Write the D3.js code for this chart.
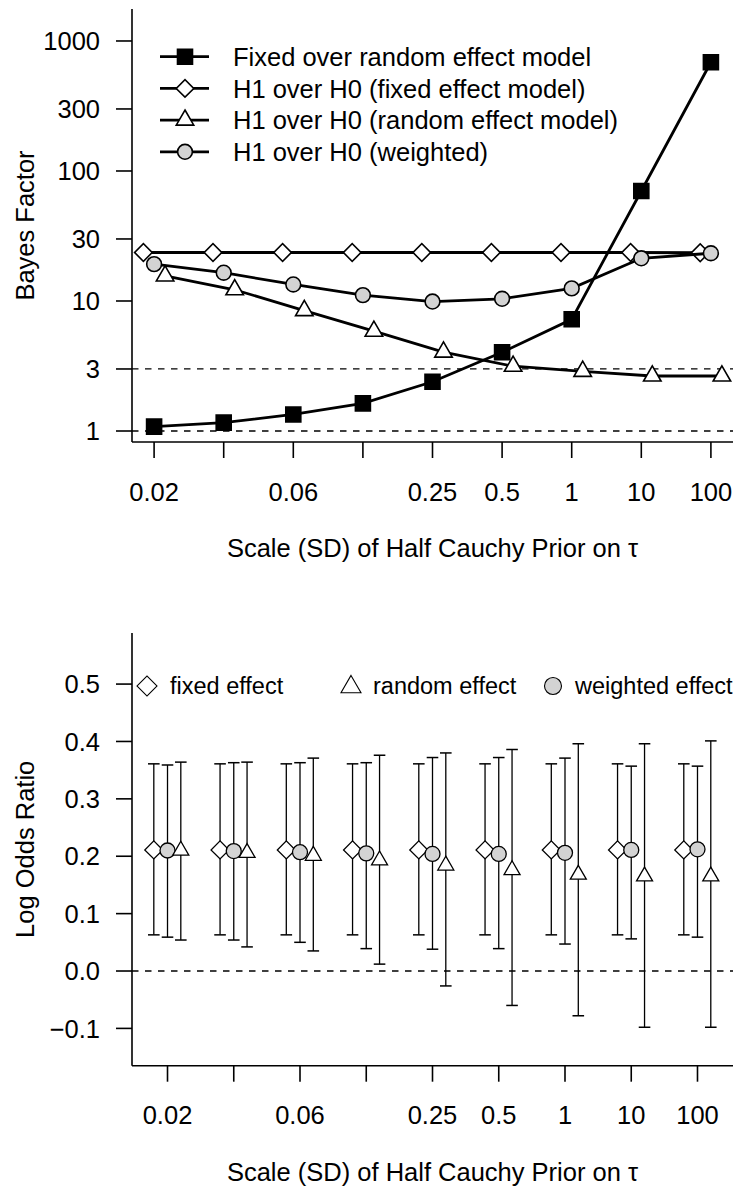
<!DOCTYPE html>
<html>
<head>
<meta charset="utf-8">
<script src="https://cdn.jsdelivr.net/npm/d3@7"></script>
<style>
  body { margin: 0; background: #fff; }
  svg text { font-family: "Liberation Sans", Arial, sans-serif; fill: #000; }
</style>
</head>
<body>
<div id="chart"></div>
<script>
// ── Data ──
const categories = ["0.02", "0.04", "0.06", "0.12", "0.25", "0.5", "1", "10", "100"];
const tickLabels = ["0.02", "", "0.06", "", "0.25", "0.5", "1", "10", "100"];

// top panel: Bayes factors
const bfFixedOverRandom = [1.08, 1.16, 1.34, 1.63, 2.39, 4.03, 7.23, 70.2, 686];
const bfH1Fixed = [23.6, 23.6, 23.6, 23.6, 23.6, 23.6, 23.6, 23.6, 23.5];
const bfH1Random = [15.6, 12.2, 8.44, 5.86, 4.05, 3.15, 2.88, 2.65, 2.65];
const bfH1Weighted = [19.2, 16.5, 13.4, 11.1, 9.9, 10.4, 12.5, 21.3, 23.3];
const bfTicks = [1, 3, 10, 30, 100, 300, 1000];
const bfRefLines = [1, 3];

// bottom panel: log odds ratio estimates with intervals
const fixedEst = [0.211, 0.211, 0.211, 0.211, 0.211, 0.211, 0.211, 0.211, 0.211];
const fixedLo  = [0.063, 0.063, 0.063, 0.063, 0.063, 0.063, 0.063, 0.063, 0.063];
const fixedHi  = [0.361, 0.361, 0.361, 0.361, 0.361, 0.361, 0.361, 0.361, 0.361];
const weightedEst = [0.210, 0.209, 0.207, 0.205, 0.204, 0.204, 0.206, 0.211, 0.212];
const weightedLo  = [0.059, 0.054, 0.050, 0.039, 0.038, 0.039, 0.047, 0.056, 0.059];
const weightedHi  = [0.359, 0.363, 0.363, 0.363, 0.372, 0.372, 0.371, 0.357, 0.357];
const randomEst = [0.210, 0.206, 0.201, 0.193, 0.184, 0.176, 0.168, 0.165, 0.165];
const randomLo  = [0.054, 0.042, 0.035, 0.012, -0.026, -0.060, -0.078, -0.098, -0.098];
const randomHi  = [0.364, 0.364, 0.371, 0.376, 0.380, 0.386, 0.396, 0.396, 0.401];
const lorTicks = [-0.1, 0.0, 0.1, 0.2, 0.3, 0.4, 0.5];

const GREY = '#d3d3d3';
const FS = 25.5;

const svg = d3.select('#chart').append('svg').attr('width', 737).attr('height', 1187);

// ── symbol helpers ──
function symPath(kind, s) {
  if (kind === 'square') return d3.symbol(d3.symbolSquare, s * s)();
  if (kind === 'diamond') return d3.symbol(d3.symbolSquare, 2 * s * s)();   // s = half-diagonal
  if (kind === 'triangle') return d3.symbol(d3.symbolTriangle, Math.sqrt(3) / 4 * s * s)(); // s = side
  return d3.symbol(d3.symbolCircle, Math.PI * s * s)();                     // s = radius
}
function drawSym(g, kind, x, y, s, fill, sw) {
  g.append('path').attr('d', symPath(kind, s))
    .attr('transform', `translate(${x},${y})` + (kind === 'diamond' ? ' rotate(45)' : ''))
    .attr('fill', fill).attr('stroke', '#000').attr('stroke-width', sw);
}

// ── shared axis frame (R style, bty = "l") ──
function frame(x, y, yTicks, fmt, xLabelY, titleY, yTitle) {
  const [x0, x1] = x.range();
  const [yb, yt] = y.range();
  const g = svg.append('g');
  g.append('line').attr('x1', x0).attr('x2', x0).attr('y1', yb).attr('y2', yt)
    .attr('stroke', '#000').attr('stroke-width', 1.6);
  g.append('line').attr('x1', x0).attr('x2', x1).attr('y1', yb).attr('y2', yb)
    .attr('stroke', '#000').attr('stroke-width', 1.6);
  yTicks.forEach(t => {
    g.append('line').attr('x1', x0 - 16).attr('x2', x0).attr('y1', y(t)).attr('y2', y(t))
      .attr('stroke', '#000').attr('stroke-width', 1.6);
    g.append('text').attr('x', 100).attr('y', y(t)).attr('dy', '0.36em')
      .attr('text-anchor', 'end').attr('font-size', FS).text(fmt(t));
  });
  categories.forEach((c, i) => {
    g.append('line').attr('x1', x(c)).attr('x2', x(c)).attr('y1', yb).attr('y2', yb + 16)
      .attr('stroke', '#000').attr('stroke-width', 1.6);
    if (tickLabels[i]) g.append('text').attr('x', x(c)).attr('y', xLabelY).attr('dy', '0.36em')
      .attr('text-anchor', 'middle').attr('font-size', FS).text(tickLabels[i]);
  });
  g.append('text').attr('x', (x0 + x1) / 2).attr('y', titleY).attr('dy', '0.36em')
    .attr('text-anchor', 'middle').attr('font-size', FS).text('Scale (SD) of Half Cauchy Prior on τ');
  g.append('text').attr('transform', `translate(34,${(yb + yt) / 2}) rotate(-90)`)
    .attr('text-anchor', 'middle').attr('font-size', FS).text(yTitle);
  return g;
}

// ── Top panel ──
const xTop = d3.scalePoint().domain(categories).range([132, 733]).padding(0.3175);
const yTop = d3.scaleLog().domain([0.823, 1762]).range([442, 9]);
const gTop = frame(xTop, yTop, bfTicks, d => String(d), 492, 548, 'Bayes Factor');

bfRefLines.forEach(v => {
  gTop.append('line').attr('x1', 132).attr('x2', 733).attr('y1', yTop(v)).attr('y2', yTop(v))
    .attr('stroke', '#000').attr('stroke-width', 1.3).attr('stroke-dasharray', '6.5,6.5');
});

const topSeries = [
  { name: 'Fixed over random effect model', vals: bfFixedOverRandom, kind: 'square', size: 15, fill: '#000', dx: 0 },
  { name: 'H1 over H0 (fixed effect model)', vals: bfH1Fixed, kind: 'diamond', size: 8.8, fill: '#fff', dx: -10.7 },
  { name: 'H1 over H0 (random effect model)', vals: bfH1Random, kind: 'triangle', size: 17.5, fill: '#fff', dx: 11 },
  { name: 'H1 over H0 (weighted)', vals: bfH1Weighted, kind: 'circle', size: 7.4, fill: GREY, dx: 0 }
];
const line = d3.line();
topSeries.forEach(s => {
  const pts = s.vals.map((v, i) => [xTop(categories[i]) + s.dx, yTop(v)]);
  gTop.append('path').attr('d', line(pts)).attr('fill', 'none')
    .attr('stroke', '#000').attr('stroke-width', 2.8);
  pts.forEach(p => drawSym(gTop, s.kind, p[0], p[1], s.size, s.fill, 1.6));
});

// legend
const legRows = [56.7, 88.4, 120.1, 151.8];
topSeries.forEach((s, i) => {
  const y = legRows[i];
  gTop.append('line').attr('x1', 160).attr('x2', 209).attr('y1', y).attr('y2', y)
    .attr('stroke', '#000').attr('stroke-width', 2.8);
  drawSym(gTop, s.kind, 185, y, s.size, s.fill, 1.6);
  gTop.append('text').attr('x', 233).attr('y', y).attr('dy', '0.36em')
    .attr('font-size', FS).text(s.name);
});

// ── Bottom panel ──
const xBot = d3.scalePoint().domain(categories).range([132, 733]).padding(0.536);
const yBot = d3.scaleLinear().domain([-0.165, 0.589]).range([1065.7, 633]);
const gBot = frame(xBot, yBot, lorTicks, d3.format('.1f'), 1115, 1172, 'Log Odds Ratio');

gBot.append('line').attr('x1', 132).attr('x2', 733).attr('y1', yBot(0)).attr('y2', yBot(0))
  .attr('stroke', '#000').attr('stroke-width', 1.3).attr('stroke-dasharray', '6.5,6.5');

const botSeries = [
  { name: 'fixed effect', est: fixedEst, lo: fixedLo, hi: fixedHi, kind: 'diamond', size: 9, fill: '#fff', dx: -13.7 },
  { name: 'weighted effect', est: weightedEst, lo: weightedLo, hi: weightedHi, kind: 'circle', size: 7.5, fill: GREY, dx: 0 },
  { name: 'random effect', est: randomEst, lo: randomLo, hi: randomHi, kind: 'triangle', size: 16, fill: '#fff', dx: 13.3 }
];
botSeries.forEach(s => {
  categories.forEach((c, i) => {
    const x = xBot(c) + s.dx;
    gBot.append('line').attr('x1', x).attr('x2', x).attr('y1', yBot(s.lo[i])).attr('y2', yBot(s.hi[i]))
      .attr('stroke', '#000').attr('stroke-width', 1.3);
    [s.lo[i], s.hi[i]].forEach(v => {
      gBot.append('line').attr('x1', x - 5.8).attr('x2', x + 5.8).attr('y1', yBot(v)).attr('y2', yBot(v))
        .attr('stroke', '#000').attr('stroke-width', 1.5);
    });
  });
});
botSeries.forEach(s => {
  categories.forEach((c, i) => drawSym(gBot, s.kind, xBot(c) + s.dx, yBot(s.est[i]), s.size, s.fill, 1.3));
});

// legend (fixed, random, weighted)
const botLegend = [
  { s: botSeries[0], x: 147, tx: 170, size: 10 },
  { s: botSeries[2], x: 351, tx: 373, size: 20 },
  { s: botSeries[1], x: 553, tx: 575, size: 8.5 }
];
botLegend.forEach(l => {
  const sy = 686 + (l.s.kind === 'triangle' ? 1 : 0);
  drawSym(gBot, l.s.kind, l.x, sy, l.size, l.s.fill, 1.1);
  gBot.append('text').attr('x', l.tx).attr('y', 686).attr('dy', '0.36em')
    .attr('font-size', 23.5).text(l.s.name);
});
</script>
</body>
</html>
